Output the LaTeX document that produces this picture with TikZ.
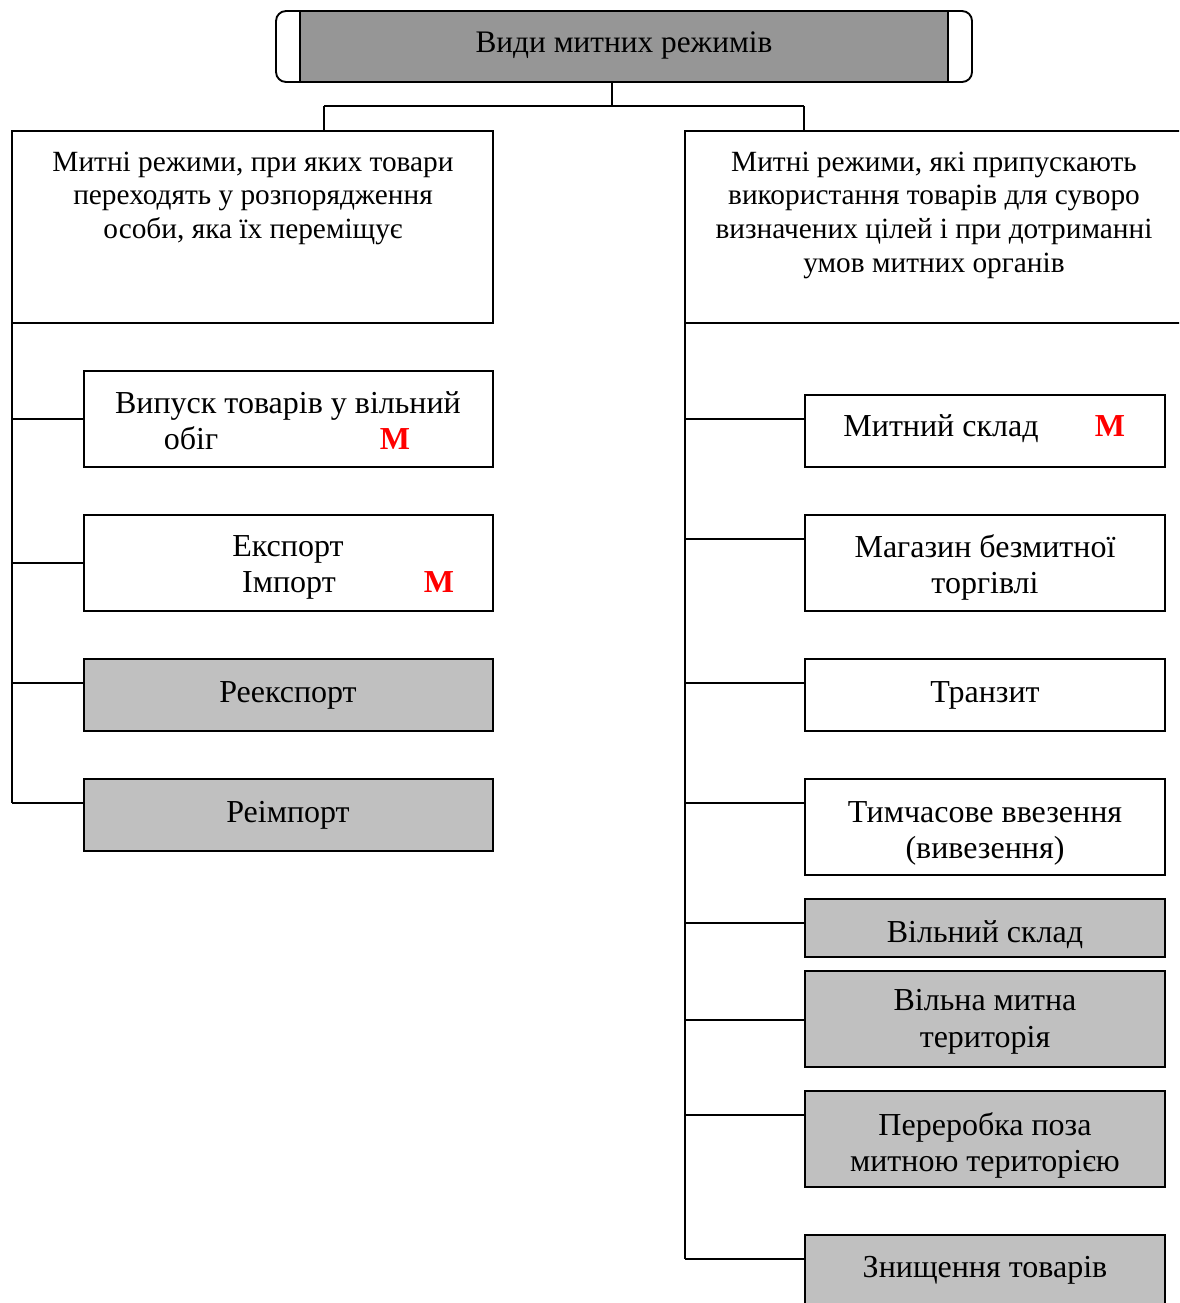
\documentclass[tikz,border=0pt]{standalone}
\usepackage{fontspec}
\setmainfont{Liberation Serif}
\usetikzlibrary{calc}
\definecolor{darkgr}{RGB}{150,150,150}
\definecolor{lightgr}{RGB}{192,192,192}
\definecolor{mred}{RGB}{255,0,0}
\begin{document}
\begin{tikzpicture}[x=0.75pt,y=-0.75pt,
  box/.style={draw=black, line width=1.4pt, rectangle, inner sep=0pt, outer sep=0pt, anchor=north west},
  whitebox/.style={box, fill=white},
  graybox/.style={box, fill=lightgr},
  ttl/.style={anchor=base, inner sep=0pt, font=\fontsize{23.5}{27}\selectfont},
  hdr/.style={anchor=base, inner sep=0pt, font=\fontsize{22}{25.5}\selectfont},
  txt/.style={anchor=base, inner sep=0pt, font=\fontsize{24}{27.75}\selectfont},
  redm/.style={anchor=base, inner sep=0pt, text=mred, font=\fontsize{24}{27.75}\selectfont\bfseries},
  conn/.style={draw=black, line width=1.4pt}
]
\clip (0,0) rectangle (1179,1303);
\fill[white] (0,0) rectangle (1179,1303);

% title
\node[box, rounded corners=7.5pt, minimum width=696*0.75pt, minimum height=71*0.75pt] (T) at (276,11) {};
\node[box, fill=darkgr, minimum width=648*0.75pt, minimum height=71*0.75pt] (Tin) at (300,11) {};
\node[ttl] (Tt) at (624,52) {Види митних режимів};

% headers
\node[whitebox, minimum width=481*0.75pt, minimum height=192*0.75pt] (L) at (12,131) {};
\node[whitebox, minimum width=520*0.75pt, minimum height=192*0.75pt] (R) at (685,131) {};

\coordinate (j) at (612,106);
\coordinate (jl) at (324,106);
\coordinate (jr) at (804,106);
\draw[conn] (Tin.south -| j) -- (j);
\draw[conn] (jl) -- (jr);
\draw[conn] (jl) -- (jl |- L.north);
\draw[conn] (jr) -- (jr |- R.north);

\node[hdr] (L1) at (253,171) {Митні режими, при яких товари};
\node[hdr] (L2) at (253,204) {переходять у розпорядження};
\node[hdr] (L3) at (253,238) {особи, яка їх переміщує};

\node[hdr] (R1) at (934,171) {Митні режими, які припускають};
\node[hdr] (R2) at (934,204) {використання товарів для суворо};
\node[hdr] (R3) at (934,238) {визначених цілей і при дотриманні};
\node[hdr] (R4) at (934,272) {умов митних органів};

% left children
\node[whitebox, minimum width=409*0.75pt, minimum height=96*0.75pt] (c1) at (84,371) {};
\node[whitebox, minimum width=409*0.75pt, minimum height=96*0.75pt] (c2) at (84,515) {};
\node[graybox, minimum width=409*0.75pt, minimum height=72*0.75pt] (c3) at (84,659) {};
\node[graybox, minimum width=409*0.75pt, minimum height=72*0.75pt] (c4) at (84,779) {};

\node[txt] (c1a) at (288,413) {Випуск товарів у вільний};
\node[txt] (c1b) at (191,449) {обіг};
\node[redm] (c1m) at (395,449) {М};
\node[txt] (c2a) at (288,556) {Експорт};
\node[txt] (c2b) at (289,592) {Імпорт};
\node[redm] (c2m) at (439,592) {М};
\node[txt] (c3a) at (288,702) {Реекспорт};
\node[txt] (c4a) at (288,822) {Реімпорт};

\draw[conn] (L.south west) -- (L.south west |- {$(c4.north west)+(0,24)$});
\foreach \n/\o in {c1/48,c2/48,c3/24,c4/24}{
  \draw[conn] (L.south west |- {$(\n.north west)+(0,\o)$}) -- ($(\n.north west)+(0,\o)$);
}

% right children
\node[whitebox, minimum width=360*0.75pt, minimum height=72*0.75pt] (d1) at (805,395) {};
\node[whitebox, minimum width=360*0.75pt, minimum height=96*0.75pt] (d2) at (805,515) {};
\node[whitebox, minimum width=360*0.75pt, minimum height=72*0.75pt] (d3) at (805,659) {};
\node[whitebox, minimum width=360*0.75pt, minimum height=96*0.75pt] (d4) at (805,779) {};
\node[graybox, minimum width=360*0.75pt, minimum height=58*0.75pt] (d5) at (805,899) {};
\node[graybox, minimum width=360*0.75pt, minimum height=96*0.75pt] (d6) at (805,971) {};
\node[graybox, minimum width=360*0.75pt, minimum height=96*0.75pt] (d7) at (805,1091) {};
\node[graybox, minimum width=360*0.75pt, minimum height=90*0.75pt] (d8) at (805,1235) {};

\node[txt] (d1a) at (941,436) {Митний склад};
\node[redm] (d1m) at (1110,436) {М};
\node[txt] (d2a) at (985,557) {Магазин безмитної};
\node[txt] (d2b) at (985,593) {торгівлі};
\node[txt] (d3a) at (985,702) {Транзит};
\node[txt] (d4a) at (985,822) {Тимчасове ввезення};
\node[txt] (d4b) at (985,858) {(вивезення)};
\node[txt] (d5a) at (985,942) {Вільний склад};
\node[txt] (d6a) at (985,1010) {Вільна митна};
\node[txt] (d6b) at (985,1047) {територія};
\node[txt] (d7a) at (985,1135) {Переробка поза};
\node[txt] (d7b) at (985,1171) {митною територією};
\node[txt] (d8a) at (985,1277) {Знищення товарів};

\draw[conn] (R.south west) -- (R.south west |- {$(d8.north west)+(0,24)$});
\foreach \n/\o in {d1/24,d2/24,d3/24,d4/24,d5/24,d6/49,d7/24,d8/24}{
  \draw[conn] (R.south west |- {$(\n.north west)+(0,\o)$}) -- ($(\n.north west)+(0,\o)$);
}
\end{tikzpicture}
\end{document}
